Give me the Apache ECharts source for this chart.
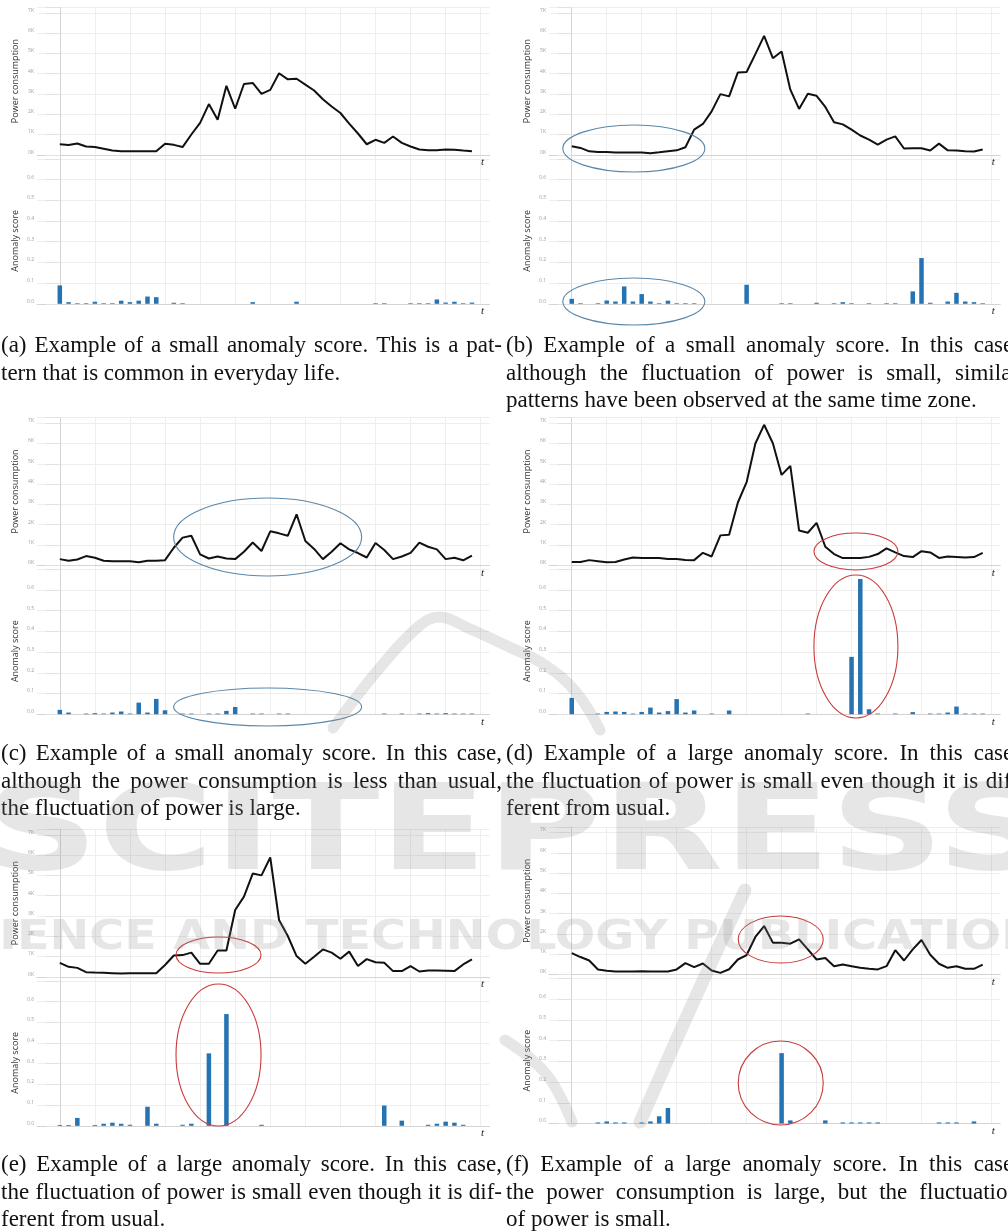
<!DOCTYPE html>
<html><head><meta charset="utf-8">
<script src="https://cdn.jsdelivr.net/npm/echarts@6/dist/echarts.min.js"></script>
<style>html,body{margin:0;padding:0;background:#fff}#c{width:1008px;height:1231px}</style>
</head><body><div id="c"></div>
<script>
// half-hour slots of one day
const slots = Array.from({length: 48}, (_, i) => i);
const gridSlots = [0, 4, 8, 12, 16, 20, 24, 28, 32, 36, 40, 44, 48];
const powerTicks = [0, 1000, 2000, 3000, 4000, 5000, 6000, 7000];

// power consumption (W)
const powerA = [520,480,560,410,380,300,210,170,170,180,180,180,540,490,380,1000,1570,2500,1730,3400,2270,3490,3540,3000,3200,4020,3720,3750,3460,3170,2740,2380,2060,1540,1050,520,740,590,900,590,410,260,230,230,260,250,210,180];
const powerB = [420,340,170,140,140,110,110,110,110,80,120,170,220,370,1240,1520,2140,2990,2880,4060,4080,4960,5860,4760,5090,3210,2260,3010,2910,2360,1600,1500,1240,950,750,500,750,910,310,320,320,210,550,220,210,170,160,260];
const powerC = [300,220,280,450,370,220,190,190,190,150,220,220,250,860,1360,1450,530,330,430,330,300,660,1120,700,1670,1570,1450,2510,1190,800,300,660,1080,780,600,380,1090,750,300,430,610,1110,910,780,300,370,240,470];
const powerD = [160,160,250,200,150,160,280,380,350,360,350,310,300,260,250,610,430,1470,1500,3090,4090,6000,6920,6010,4450,4890,1710,1600,2090,910,550,350,350,350,410,550,830,630,450,400,690,630,360,430,410,380,400,610];
const powerE = [690,490,440,230,210,200,180,160,180,180,180,180,580,1050,1070,1190,640,640,1300,1300,3290,3950,5090,5000,5880,2800,2010,1020,640,990,1350,1190,890,1240,530,870,720,690,280,280,530,260,310,310,300,280,610,860];
const powerF = [1050,860,690,250,180,150,150,150,160,150,150,150,250,560,360,540,200,80,260,740,960,1850,2390,1570,1570,1520,1730,1240,740,810,410,490,410,330,280,250,410,1200,690,1240,1700,970,530,330,410,280,280,490];

// anomaly scores
const scoreA = [0.089,0.008,0.003,0.003,0.010,0.003,0.003,0.015,0.008,0.015,0.035,0.032, 0,0.005,0.003,0,0,0,0,0,0,0,0.008,0, 0,0,0,0.010,0,0,0,0,0,0,0,0, 0.003,0.003,0,0,0.003,0.003,0.003,0.021,0.006,0.010,0.003,0.006];
const scoreB = [0.024,0.003,0,0.003,0.016,0.011,0.084,0.011,0.047,0.011,0.003,0.015, 0.003,0.003,0.003,0,0,0,0,0,0.092,0,0,0, 0.003,0.003,0,0,0.005,0,0.003,0.008,0.003,0,0.003,0, 0.003,0.003,0,0.060,0.221,0.005,0,0.011,0.053,0.011,0.008,0.003];
const scoreC = [0.021,0.008,0,0.003,0.005,0.003,0.008,0.013,0.003,0.056,0.008,0.074, 0.019,0,0.003,0.003,0,0.003,0.003,0.016,0.035,0,0.003,0.003, 0,0.003,0.003,0,0,0,0,0,0,0,0,0, 0,0.003,0,0.003,0,0.003,0.005,0.003,0.005,0.003,0.003,0.003];
const scoreD = [0.079,0,0,0.003,0.011,0.013,0.011,0.003,0.011,0.032,0.008,0.015, 0.073,0.008,0.018,0,0.003,0,0.018,0,0,0,0,0, 0,0,0,0.003,0,0,0,0,0.277,0.653,0.024,0.003, 0,0.003,0,0.010,0,0.003,0.003,0.008,0.037,0.003,0.003,0.003];
const scoreE = [0.004,0.004,0.038,0,0.004,0.010,0.015,0.010,0.005,0,0.092,0.010, 0,0,0.005,0.010,0,0.350,0,0.540,0,0,0,0.005, 0,0,0,0,0,0,0,0,0,0,0,0, 0,0.098,0,0.025,0,0,0.005,0.010,0.020,0.015,0.005,0];
const scoreF = [0,0,0,0.005,0.010,0.005,0.005,0,0.005,0.010,0.035,0.075, 0,0,0,0,0,0,0,0,0,0,0,0, 0.340,0.015,0,0,0,0.015,0,0.005,0.005,0.005,0.005,0.005, 0,0,0,0,0,0,0.005,0.005,0.005,0,0.010,0];

const captions = [
  ["(a) Example of a small anomaly score. This is a pat-", "tern that is common in everyday life."],
  ["(b) Example of a small anomaly score. In this case,", "although the fluctuation of power is small, similar", "patterns have been observed at the same time zone."],
  ["(c) Example of a small anomaly score. In this case,", "although the power consumption is less than usual,", "the fluctuation of power is large."],
  ["(d) Example of a large anomaly score. In this case,", "the fluctuation of power is small even though it is dif-", "ferent from usual."],
  ["(e) Example of a large anomaly score. In this case,", "the fluctuation of power is small even though it is dif-", "ferent from usual."],
  ["(f) Example of a large anomaly score. In this case,", "the power consumption is large, but the fluctuation", "of power is small."]
];
const watermark = ["SCITEPRESS", "SCIENCE AND TECHNOLOGY PUBLICATIONS"];

// layout
const panels = [
  {power: powerA, score: scoreA, col: 0, top: 7.3,   capBase: 353},
  {power: powerB, score: scoreB, col: 1, top: 7.3,   capBase: 353},
  {power: powerC, score: scoreC, col: 0, top: 417.7, capBase: 761},
  {power: powerD, score: scoreD, col: 1, top: 417.7, capBase: 761},
  {power: powerE, score: scoreE, col: 0, top: 829.3, capBase: 1172},
  {power: powerF, score: scoreF, col: 1, top: 827,   capBase: 1172}
];
const cols = [{left: 37, width: 452.5, capX: 1, capW: 501}, {left: 549, width: 451.2, capX: 506, capW: 513}];
const LINE_H = 147.5, BAR_H = 149;
const GRID_C = '#eeeeee', AXIS_C = '#d4d4d4', LABEL_C = '#9c9c9c';

const grid = [], xAxis = [], yAxis = [], series = [];
panels.forEach((p) => {
  const c = cols[p.col];
  const gi = grid.length;
  grid.push({left: c.left, top: p.top, width: c.width, height: LINE_H});
  grid.push({left: c.left, top: p.top + LINE_H, width: c.width, height: BAR_H});
  for (let j = 0; j < 2; j++) {
    xAxis.push({
      type: 'value', gridIndex: gi + j, min: -2.6, max: 49,
      axisLine: {show: true, onZero: false, lineStyle: {color: AXIS_C, width: 1}},
      axisTick: {show: false, customValues: gridSlots},
      axisLabel: {show: false, customValues: gridSlots},
      splitLine: {show: true, lineStyle: {color: GRID_C, width: 1}},
      name: 't', nameLocation: 'end', nameGap: -7,
      nameTextStyle: {fontFamily: '"Liberation Serif", serif', fontStyle: 'italic', fontSize: 11, color: '#222', align: 'center', verticalAlign: 'top', padding: [2, 0, 0, 0]}
    });
  }
  yAxis.push({
    type: 'value', gridIndex: gi, min: 0, max: 7270, interval: 1000,
    axisLine: {show: true, lineStyle: {color: AXIS_C}},
    axisTick: {show: true, length: 14, lineStyle: {color: '#e2e2e2'}},
    axisLabel: {fontSize: 5, color: LABEL_C, margin: 3, verticalAlign: 'bottom', fontFamily: 'Open Sans',
      formatter: v => (powerTicks.indexOf(Math.round(v)) >= 0 ? (Math.round(v) / 1000) + 'K' : '')},
    splitLine: {show: true, lineStyle: {color: GRID_C}},
    name: 'Power consumption', nameLocation: 'middle', nameGap: 17, nameMoveOverlap: false,
    nameTextStyle: {fontSize: 9, color: '#333', fontFamily: 'Open Sans'}
  });
  yAxis.push({
    type: 'value', gridIndex: gi + 1, min: 0, max: 0.72, interval: 0.1,
    axisLine: {show: true, lineStyle: {color: AXIS_C}},
    axisTick: {show: true, length: 14, lineStyle: {color: '#e2e2e2'}},
    axisLabel: {fontSize: 5, color: LABEL_C, margin: 3, verticalAlign: 'bottom', fontFamily: 'Open Sans',
      formatter: v => (v < 0.65 ? v.toFixed(1) : '')},
    splitLine: {show: true, lineStyle: {color: GRID_C}},
    name: 'Anomaly score', nameLocation: 'middle', nameGap: 17, nameMoveOverlap: false,
    nameTextStyle: {fontSize: 9, color: '#333', fontFamily: 'Open Sans', padding: [0, 23, 0, 0]}
  });
  series.push({
    type: 'line', xAxisIndex: gi, yAxisIndex: gi, symbol: 'none', silent: true,
    lineStyle: {color: '#111', width: 2}, data: p.power.map((v, i) => [slots[i], v])
  });
  series.push({
    type: 'bar', xAxisIndex: gi + 1, yAxisIndex: gi + 1, barWidth: 4.5, silent: true,
    itemStyle: {color: '#2573b2'}, data: p.score.map((v, i) => [slots[i], v])
  });
});

const chart = echarts.init(document.getElementById('c'), null, {renderer: 'canvas'});
chart.setOption({animation: false, grid, xAxis, yAxis, series});

const ctx = document.createElement('canvas').getContext('2d');
const graphics = [];

// faint publisher watermark across the figure
const WM = 'rgba(140,140,140,0.22)';
const wmSpecs = [
  {text: watermark[0], font: 'bold 119px "DejaVu Sans"', x0: -15, x1: 1050, y: 838},
  {text: watermark[1], font: 'bold 41px "DejaVu Sans"', x0: -70, x1: 1075, y: 938}
];
wmSpecs.forEach(w => {
  ctx.font = w.font;
  const nat = ctx.measureText(w.text).width;
  graphics.push({type: 'text', x: w.x0, y: w.y, scaleX: (w.x1 - w.x0) / nat, silent: true, z: 200,
    style: {text: w.text, font: w.font, fill: WM, verticalAlign: 'middle', align: 'left'}});
});
// logo swooshes of the watermark
const swooshes = [
  {pts: [[333, 728], [378, 670], [418, 627], [440, 617], [468, 628], [505, 645], [545, 665], [576, 692], [600, 730]], w: 11},
  {pts: [[505, 1040], [530, 1058], [552, 1082], [572, 1122]], w: 11},
  {pts: [[745, 890], [692, 1005], [640, 1122]], w: 13}
];
swooshes.forEach(s => {
  graphics.push({type: 'polyline', silent: true, z: 199, shape: {points: s.pts, smooth: 0.4},
    style: {fill: 'none', stroke: WM, lineWidth: s.w, lineCap: 'round'}});
});

// captions (justified like the paper's two-column layout)
const CAP_SIZE = 23, CAP_LH = 27.5;
const capFont = CAP_SIZE + 'px "Liberation Serif"';
ctx.font = capFont;
panels.forEach((p, k) => {
  const c = cols[p.col];
  const lines = captions[k];
  lines.forEach((ln, li) => {
    const words = ln.split(' ');
    const ws = words.map(w => ctx.measureText(w).width);
    const total = ws.reduce((a, b) => a + b, 0);
    const justify = li < lines.length - 1 && words.length > 1;
    const gap = justify ? (c.capW - total) / (words.length - 1) : ctx.measureText(' ').width;
    let x = c.capX;
    const y = p.capBase + li * CAP_LH - 7;
    words.forEach((w, j) => {
      graphics.push({type: 'text', x: x, y: y, silent: true, z: 50,
        style: {text: w, font: capFont, fill: '#111', verticalAlign: 'middle', align: 'left'}});
      x += ws[j] + gap;
    });
  });
});

// hand-drawn annotation ellipses, anchored in data coordinates
const BLUE = '#5a87a9', RED = '#c83b3b';
const notes = [
  {axis: 2, at: [7.1, 310], rx: 71, ry: 23.5, color: BLUE},
  {axis: 3, at: [7.1, 0.011], rx: 71, ry: 23.5, color: BLUE},
  {axis: 4, at: [23.7, 1390], rx: 94, ry: 39, color: BLUE},
  {axis: 5, at: [23.7, 0.035], rx: 94, ry: 19, color: BLUE},
  {axis: 6, at: [32.5, 675], rx: 42, ry: 18.5, color: RED},
  {axis: 7, at: [32.5, 0.327], rx: 42, ry: 71.5, color: RED},
  {axis: 8, at: [18.1, 1075], rx: 42.5, ry: 18, color: RED},
  {axis: 9, at: [18.1, 0.342], rx: 42.5, ry: 71, color: RED},
  {axis: 10, at: [23.9, 1725], rx: 42.5, ry: 23.5, color: RED},
  {axis: 11, at: [23.9, 0.196], rx: 42.5, ry: 42, color: RED}
];
notes.forEach(n => {
  const pt = chart.convertToPixel({xAxisIndex: n.axis, yAxisIndex: n.axis}, n.at);
  graphics.push({type: 'ellipse', silent: true, z: 60,
    shape: {cx: pt[0], cy: pt[1], rx: n.rx, ry: n.ry},
    style: {fill: 'none', stroke: n.color, lineWidth: 1.1}});
});
chart.setOption({graphic: graphics});
</script></body></html>
